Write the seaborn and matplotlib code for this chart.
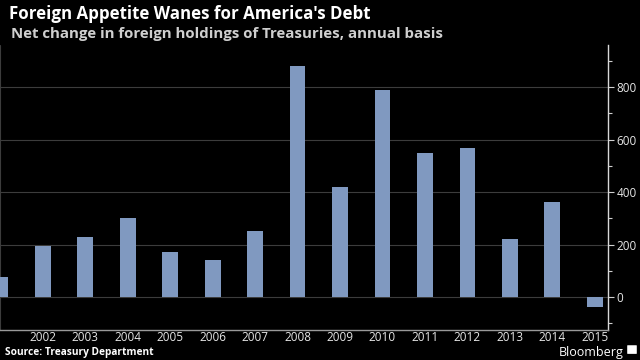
import numpy as np
import pandas as pd
import matplotlib
matplotlib.use("Agg")
import matplotlib.pyplot as plt
from matplotlib.patches import FancyBboxPatch
import seaborn as sns

# Net change in foreign holdings of Treasuries, $bn, annual basis
years = [str(y) for y in range(2001, 2016)]
net_change = [75, 193, 229, 301, 171, 143, 251, 881, 420, 790, 548, 567, 222, 362, -37]
tick_years = years[1:]

BG = "#000000"
BAR = "#8099c0"
GRID = "#3c3c3c"
TEXT = "#e6e6e6"

sns.set_style("dark")
plt.rcParams["font.family"] = ["Open Sans", "DejaVu Sans"]

df = pd.DataFrame({"year": years, "change": net_change})

fig = plt.figure(figsize=(6.4, 3.6), dpi=100, facecolor=BG)
ax = fig.add_axes([0.0, 0.0833, 0.9505, 0.7917])
ax.set_facecolor(BG)

sns.barplot(data=df, x="year", y="change", order=years, color=BAR,
            width=0.37, saturation=1, linewidth=0, edgecolor="none",
            ax=ax, zorder=3)

ax.set_xlim(-0.01, 14.32)
ax.set_ylim(-125, 960)

# y axis on the right
ax.yaxis.tick_right()
ax.set_yticks([0, 200, 400, 600, 800])
ax.set_yticks(np.arange(-100, 1000, 100), minor=True)
ax.tick_params(axis="y", which="both", direction="out", colors="#cfcfcf",
               labelcolor=TEXT, labelsize=8.5, pad=2)
ax.tick_params(axis="y", which="major", length=4, width=0.8)
ax.tick_params(axis="y", which="minor", length=3, width=0.8)

# x axis: year labels, grid on odd years
ax.set_xticks(range(1, len(years)), tick_years)
ax.set_xticks(range(0, len(years), 2), minor=True)
ax.tick_params(axis="x", which="major", length=0, labelcolor=TEXT,
               labelsize=8.5, pad=1)
ax.tick_params(axis="x", which="minor", length=3, color="#9a9a9a")

ax.grid(False)
ax.grid(axis="y", which="major", color=GRID, lw=0.8, zorder=0)
ax.grid(axis="x", which="minor", color=GRID, lw=0.8, zorder=0)

for side in ["top", "left"]:
    ax.spines[side].set_visible(False)
ax.spines["right"].set_color("#d8d8d8")
ax.spines["bottom"].set_color("#9a9a9a")
ax.spines["right"].set_linewidth(1.0)
ax.spines["bottom"].set_linewidth(1.0)

ax.set_xlabel("")
ax.set_ylabel("")

fig.text(0.014, 0.985, "Foreign Appetite Wanes for America's Debt",
         color="white", fontsize=12.2, fontweight="bold", va="top", ha="left")
fig.text(0.017, 0.925, "Net change in foreign holdings of Treasuries, annual basis",
         color="#cfcfcf", fontsize=10.8, fontweight="bold", va="top", ha="left")
fig.text(0.008, 0.006, "Source: Treasury Department", color="white",
         fontsize=7.3, fontweight="bold", va="bottom", ha="left")
fig.text(0.975, 0.004, "Bloomberg", color="white", fontsize=9,
         va="bottom", ha="right")

# small Bloomberg logo square
fig.patches.append(FancyBboxPatch((0.981, 0.018), 0.013, 0.022,
                                  boxstyle="round,pad=0.001", fc="white",
                                  ec="none", transform=fig.transFigure,
                                  figure=fig))

fig.savefig("out.png", dpi=100, facecolor=BG)
